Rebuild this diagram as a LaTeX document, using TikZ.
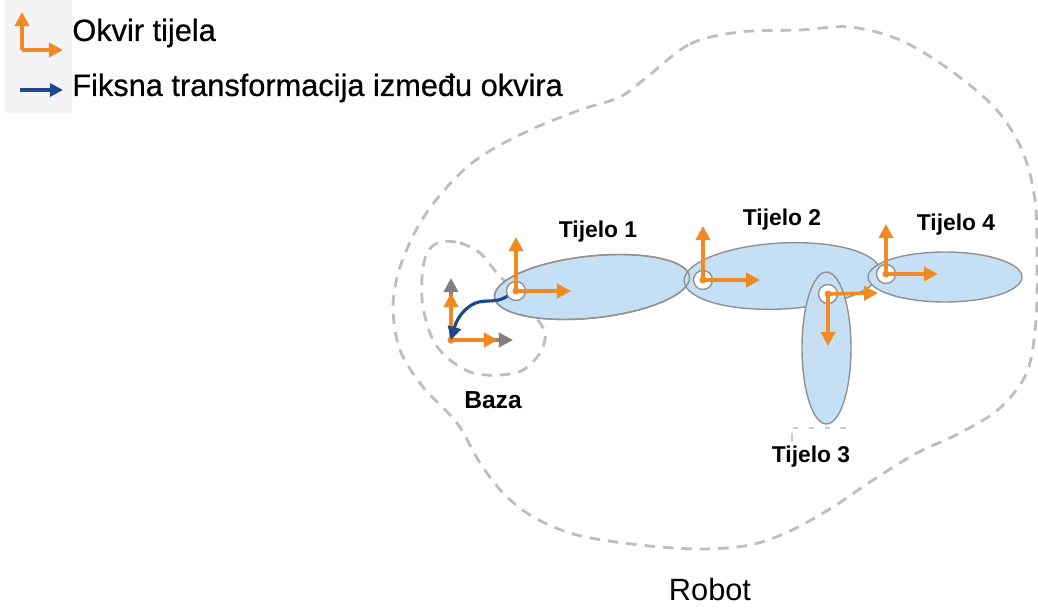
\documentclass[tikz,border=0pt]{standalone}
\usepackage{fontspec}
\setmainfont{Liberation Sans}
\newfontfamily\legfont{Liberation Sans}[FakeBold=0.6]
\usetikzlibrary{shapes.geometric,arrows.meta}
\definecolor{bodyfill}{RGB}{197,224,244}
\definecolor{bodyline}{RGB}{145,145,145}
\definecolor{frameor}{RGB}{242,138,36}
\definecolor{fixblue}{RGB}{30,72,140}
\definecolor{zonegray}{RGB}{190,190,190}
\definecolor{legbg}{RGB}{244,244,246}
\begin{document}
\begin{tikzpicture}[x=0.02cm,y=-0.02cm,
 body/.style={ellipse,draw=bodyline,line width=0.8pt,fill=bodyfill,inner sep=0pt},
 bodyedge/.style={ellipse,draw=bodyline,line width=0.8pt,inner sep=0pt},
 joint/.style={circle,draw=bodyline,line width=0.8pt,fill=white,minimum size=0.38cm,inner sep=0pt},
 odot/.style={circle,fill=frameor,minimum size=0.14cm,inner sep=0pt},
 axis/.style={draw=frameor,line width=2pt,-{Triangle[length=8pt,width=8pt]}},
 gaxis/.style={draw=gray,line width=2pt,-{Triangle[length=8pt,width=8pt]}},
 fixarrow/.style={draw=fixblue,line width=1.8pt,-{Triangle[length=7.5pt,width=7.5pt]}},
 zone/.style={draw=zonegray,line width=1.6pt,dash pattern=on 6pt off 4.5pt},
 lbl/.style={font=\bfseries\fontsize{13pt}{15pt}\selectfont,inner sep=0pt},
 legtxt/.style={font=\legfont\fontsize{17.5pt}{20pt}\selectfont,anchor=west,inner sep=0pt}]

\useasboundingbox (0,0) rectangle (1038,608);

% legend
\fill[legbg] (5,0) rectangle (72,113);
\coordinate (lo) at (22,50);
\coordinate (lx) at (63,50);
\coordinate (ly) at (22,12);
\draw[axis] (lo) -- (ly);
\draw[axis] (lo) -- (lx);
\coordinate (la) at (20,90);
\coordinate (lb) at (63,90);
\draw[fixarrow,line width=2.2pt] (la) -- (lb);
\node[legtxt] (t1) at (72,33) {Okvir tijela};
\node[legtxt] (t2) at (72,88) {Fiksna transformacija između okvira};

% robot zone
\draw[zone] plot[smooth cycle,tension=0.55] coordinates {
 (647,77) (690,44) (740,32) (800,30) (850,27) (900,40) (950,70) (995,108)
 (1022,150) (1035,200) (1037,260) (1036,320) (1027,372) (1000,408) (960,433)
 (917,453) (873,480) (833,507) (790,531) (750,545) (700,549) (640,545)
 (577,535) (535,518) (505,495) (480,463) (457,423) (423,387) (400,350)
 (393,307) (400,267) (420,223) (447,187) (480,157) (530,130) (580,110) (620,97)};

% base zone
\draw[zone] plot[smooth cycle,tension=0.55] coordinates {
 (440,242) (460,243) (480,253) (497,273) (516,293) (532,312) (545,333)
 (540,353) (523,370) (500,375) (473,373) (450,360) (433,340) (423,307)
 (422,277) (427,253)};

% bodies
\node[body,minimum width=3.92cm,minimum height=1.24cm,rotate=6] (b1) at (592,287) {};
\node[body,minimum width=3.92cm,minimum height=1.32cm,rotate=3] (b2) at (782,276) {};
\node[bodyedge,minimum width=3.92cm,minimum height=1.24cm,rotate=6] (b1e) at (592,287) {};
\node[body,minimum width=0.98cm,minimum height=3.04cm] (b3) at (826.5,348) {};
\node[body,minimum width=3.08cm,minimum height=1.0cm] (b4) at (945,277) {};

% small leftover marks under body 3
\coordinate (m1) at (793,428);
\coordinate (m2) at (847,428);
\coordinate (m3) at (792,433);
\coordinate (m4) at (792,442);
\draw[gray!40,line width=0.6pt,dash pattern=on 3pt off 6pt] (m1) -- (m2);
\draw[gray!40,line width=0.6pt] (m3) -- (m4);

% base frame
\coordinate (bo) at (451,340);
\coordinate (bgy) at (451,278);
\coordinate (bgx) at (513,340);
\coordinate (boy) at (451,293);
\coordinate (box) at (498,340);
\draw[gaxis] (bo) -- (bgy);
\draw[gaxis] (bo) -- (bgx);
\draw[axis] (bo) -- (boy);
\draw[axis] (bo) -- (box);
\node[odot] (bod) at (bo) {};

% joints
\node[joint] (j1) at (516,291) {};
\node[joint] (j2) at (703,280) {};
\node[joint] (j3) at (828,294) {};
\node[joint] (j4) at (886,274) {};

% fixed transform
\draw[fixarrow] (j1.210) .. controls (495,305) and (482,297) .. (470,306)
  .. controls (460,313) and (456,322) .. (bo);

% body frames
\coordinate (j1y) at (516,237);
\coordinate (j1x) at (571,291);
\coordinate (j2y) at (703,226);
\coordinate (j2x) at (760,280);
\coordinate (j3x) at (878,293);
\coordinate (j3y) at (828,346);
\coordinate (j4y) at (886,224);
\coordinate (j4x) at (938,274);
\draw[axis] (j1.center) -- (j1y);
\draw[axis] (j1.center) -- (j1x);
\draw[axis] (j2.center) -- (j2y);
\draw[axis] (j2.center) -- (j2x);
\draw[axis] (j3.center) -- (j3x);
\draw[axis] (j3.center) -- (j3y);
\draw[axis] (j4.center) -- (j4y);
\draw[axis] (j4.center) -- (j4x);
\node[odot] (d1) at (j1) {};
\node[odot] (d2) at (j2) {};
\node[odot] (d3) at (j3) {};
\node[odot] (d4) at (j4) {};

% labels
\node[lbl] (l1) at (598,232) {Tijelo 1};
\node[lbl] (l2) at (782,220) {Tijelo 2};
\node[lbl] (l3) at (811,457) {Tijelo 3};
\node[lbl] (l4) at (956,225) {Tijelo 4};
\node[lbl,font=\bfseries\fontsize{14pt}{16pt}\selectfont] (lbz) at (493,400) {Baza};
\node[font=\fontsize{17.5pt}{20pt}\selectfont,inner sep=0pt] (lr) at (710,590) {Robot};
\end{tikzpicture}
\end{document}
